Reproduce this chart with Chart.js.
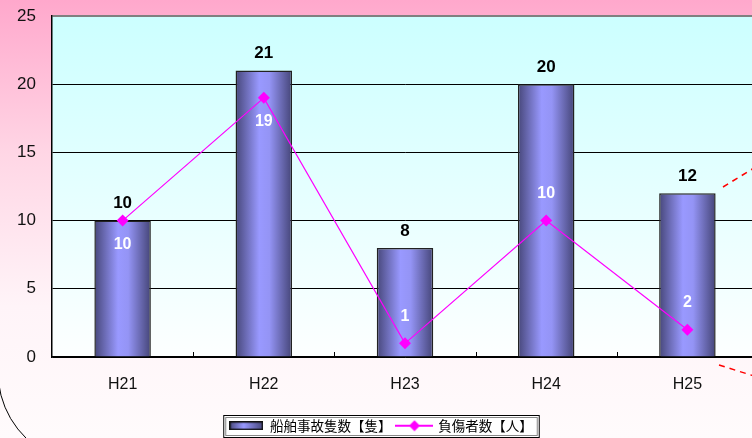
<!DOCTYPE html>
<html><head><meta charset="utf-8">
<script src="https://cdn.jsdelivr.net/npm/chart.js@4/dist/chart.umd.min.js"></script>
<style>
html,body{margin:0;padding:0;overflow:hidden;background:#fff}
#wrap{width:752px;height:438px;overflow:hidden}
</style></head><body>
<div id="wrap"><canvas id="c" width="764" height="438"></canvas></div>
<script>
// data
const years = ['H21', 'H22', 'H23', 'H24', 'H25'];
const accidents = [10, 21, 8, 20, 12];
const injured = [10, 19, 1, 10, 2];
const yTicks = [0, 5, 10, 15, 20, 25];
const seriesNames = ['船舶事故隻数【隻】', '負傷者数【人】'];
// where the white injured labels go relative to the point
const injuredLabelSide = ['below', 'below', 'above', 'above', 'above'];

const FONT = "'Noto Sans CJK JP', 'DejaVu Sans', sans-serif";
const NUM_FONT = "'Liberation Sans', Arial, sans-serif";
const BAR_PCT = 0.4;
const MAGENTA = '#ff00ff';

const barFill = ctx => {
  const chart = ctx.chart, xs = chart.scales.x;
  if (!xs || !chart.chartArea || ctx.dataIndex == null) return '#8c8cee';
  const cx = xs.getPixelForValue(ctx.dataIndex);
  const half = xs.width / years.length * BAR_PCT / 2;
  const g = chart.ctx.createLinearGradient(cx - half, 0, cx + half, 0);
  g.addColorStop(0, '#47477a');
  g.addColorStop(0.42, '#9999ff');
  g.addColorStop(0.6, '#9494f5');
  g.addColorStop(1, '#454578');
  return g;
};

function barIcon() {
  const c = document.createElement('canvas'); c.width = 34; c.height = 9;
  const x = c.getContext('2d');
  const g = x.createLinearGradient(0, 0, 34, 0);
  g.addColorStop(0, '#47477a'); g.addColorStop(0.42, '#9999ff'); g.addColorStop(1, '#454578');
  x.fillStyle = g; x.fillRect(0, 0, 34, 9);
  x.strokeStyle = '#111'; x.lineWidth = 1.5; x.strokeRect(0.75, 0.75, 32.5, 7.5);
  return c;
}
function lineIcon() {
  const c = document.createElement('canvas'); c.width = 38; c.height = 12;
  const x = c.getContext('2d');
  x.strokeStyle = MAGENTA; x.lineWidth = 2;
  x.beginPath(); x.moveTo(0, 6); x.lineTo(38, 6); x.stroke();
  x.fillStyle = MAGENTA;
  x.beginPath(); x.moveTo(19, 0.5); x.lineTo(24.5, 6); x.lineTo(19, 11.5); x.lineTo(13.5, 6); x.closePath(); x.fill();
  return c;
}
const icons = [barIcon(), lineIcon()];

const backdrop = {
  id: 'backdrop',
  beforeDraw(chart) {
    const { ctx, chartArea: a, width, height } = chart;
    ctx.save();
    const bg = ctx.createLinearGradient(0, 0, 0, height);
    bg.addColorStop(0, '#ffa8cc');
    bg.addColorStop(0.35, '#ffd6e5');
    bg.addColorStop(0.7, '#fff4f8');
    bg.addColorStop(1, '#fffbfc');
    ctx.fillStyle = bg; ctx.fillRect(0, 0, width, height);
    const pg = ctx.createLinearGradient(0, a.top, 0, a.bottom);
    pg.addColorStop(0, '#ccffff');
    pg.addColorStop(1, '#fdffff');
    ctx.fillStyle = pg; ctx.fillRect(a.left, a.top, a.right - a.left, a.bottom - a.top);
    // legend frame
    const hb = chart.legend.legendHitBoxes;
    if (hb && hb.length) {
      const l = hb[0].left - 6, r = hb[hb.length - 1].left + hb[hb.length - 1].width + 6;
      const t = hb[0].top - 4;
      ctx.fillStyle = '#fff'; ctx.fillRect(l, t, r - l, 23);
      ctx.strokeStyle = '#000'; ctx.lineWidth = 1;
      ctx.strokeRect(l + 0.5, t + 0.5, r - l, 22);
      ctx.strokeStyle = '#888';
      ctx.strokeRect(l + 2.5, t + 2.5, r - l - 4, 18);
    }
    ctx.restore();
  },
  afterDraw(chart) {
    const { ctx } = chart;
    ctx.save();
    ctx.strokeStyle = '#ff0000'; ctx.lineWidth = 1.5; ctx.setLineDash([6, 5]);
    ctx.beginPath(); ctx.moveTo(723, 187); ctx.lineTo(754, 168); ctx.stroke();
    ctx.beginPath(); ctx.moveTo(719, 365); ctx.lineTo(754, 376); ctx.stroke();
    ctx.setLineDash([]);
    ctx.strokeStyle = '#000'; ctx.lineWidth = 1;
    ctx.beginPath(); ctx.arc(90, 372, 92, Math.PI * 0.7, Math.PI * 1.05); ctx.stroke();
    ctx.restore();
  }
};

const innerTicks = {
  id: 'innerTicks',
  afterDatasetsDraw(chart) {
    const { ctx, scales: { x }, chartArea: a } = chart;
    ctx.save();
    ctx.strokeStyle = '#000'; ctx.lineWidth = 1;
    for (let i = 1; i < years.length; i++) {
      const px = Math.round((x.getPixelForValue(i - 1) + x.getPixelForValue(i)) / 2) + 0.5;
      ctx.beginPath(); ctx.moveTo(px, a.bottom); ctx.lineTo(px, a.bottom - 5); ctx.stroke();
    }
    ctx.restore();
  }
};

const valueLabels = {
  id: 'valueLabels',
  afterDatasetsDraw(chart) {
    const { ctx } = chart;
    ctx.save();
    ctx.textAlign = 'center'; ctx.textBaseline = 'middle';
    ctx.font = 'bold 17px ' + NUM_FONT; ctx.fillStyle = '#000';
    chart.getDatasetMeta(1).data.forEach((el, i) => ctx.fillText(accidents[i], el.x, el.y - 17));
    ctx.font = 'bold 16px ' + NUM_FONT; ctx.fillStyle = '#fff';
    chart.getDatasetMeta(0).data.forEach((el, i) => {
      const dy = injuredLabelSide[i] === 'below' ? 24 : -27;
      ctx.fillText(injured[i], el.x, el.y + dy);
    });
    ctx.restore();
  }
};

new Chart(document.getElementById('c'), {
  data: {
    labels: years,
    datasets: [
      { type: 'line', label: seriesNames[1], data: injured, order: 0,
        borderColor: MAGENTA, borderWidth: 1.2, backgroundColor: MAGENTA,
        pointStyle: 'rectRot', pointRadius: 6, pointHoverRadius: 6, pointBorderWidth: 0 },
      { type: 'bar', label: seriesNames[0], data: accidents, order: 1,
        backgroundColor: barFill, borderColor: '#222', borderWidth: 1.5,
        barPercentage: BAR_PCT, categoryPercentage: 1 }
    ]
  },
  options: {
    responsive: false, devicePixelRatio: 1, animation: false,
    layout: { padding: { top: 16, right: 2, left: 0, bottom: -4.5 } },
    plugins: {
      tooltip: { enabled: false },
      legend: {
        position: 'bottom',
        labels: {
          usePointStyle: true, pointStyleWidth: 34, boxHeight: 12, padding: 6,
          color: '#000', font: { family: FONT, size: 13.5 },
          generateLabels: chart => [1, 0].map(di => ({
            text: chart.data.datasets[di].label, pointStyle: icons[di === 1 ? 0 : 1],
            datasetIndex: di, fontColor: '#000', lineWidth: 0, hidden: false
          }))
        }
      }
    },
    scales: {
      x: {
        grid: { display: false, drawTicks: false },
        border: { color: '#000', width: 1.5 },
        ticks: { color: '#111', font: { family: NUM_FONT, size: 16 }, padding: 18 },
        afterFit: s => { s.height = 56; s.paddingLeft = 0; s.paddingRight = 0; }
      },
      y: {
        min: 0, max: 25,
        afterBuildTicks: s => { s.ticks = yTicks.map(v => ({ value: v })); },
        grid: { color: c => c.tick.value === 25 ? '#808080' : '#000', lineWidth: c => c.tick.value === 25 ? 2 : 1, drawTicks: false },
        border: { color: '#000', width: 1.5 },
        ticks: { color: '#111', font: { family: NUM_FONT, size: 17 }, padding: 16 },
        afterFit: s => { s.width = 52; s.paddingTop = 0; s.paddingBottom = 0; }
      }
    }
  },
  plugins: [backdrop, innerTicks, valueLabels]
});
</script>
</body></html>
